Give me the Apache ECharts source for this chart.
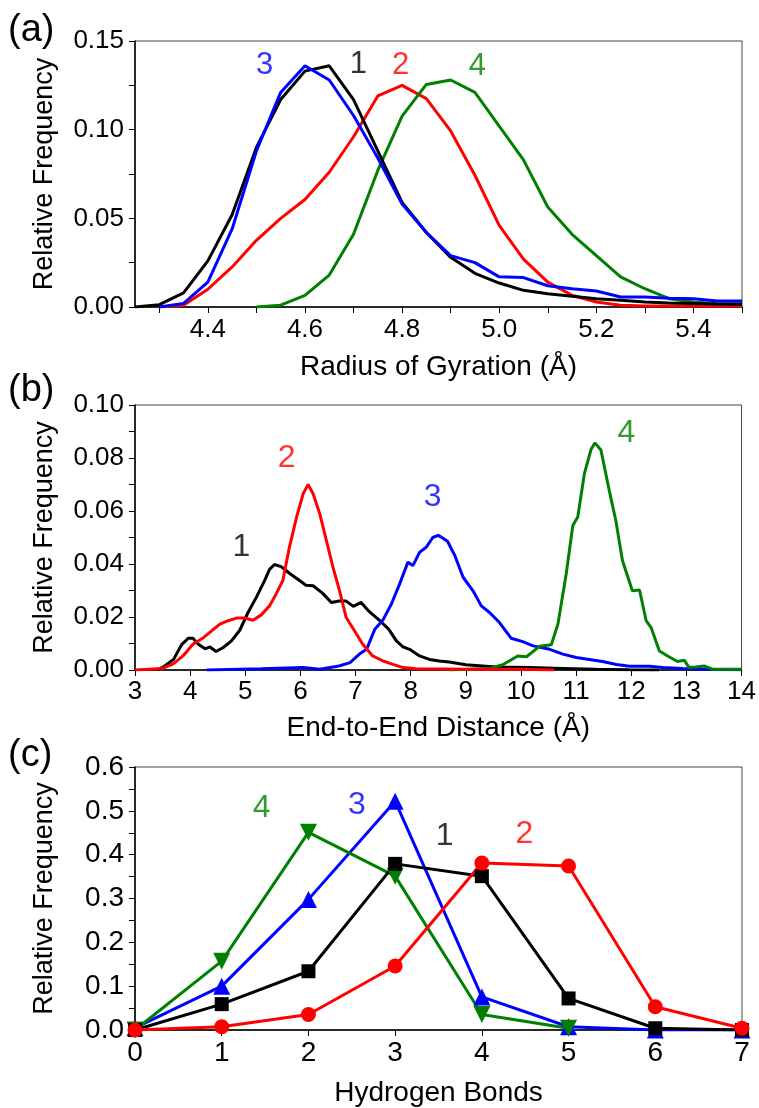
<!DOCTYPE html>
<html><head><meta charset="utf-8">
<script src="https://cdn.jsdelivr.net/npm/echarts@6/dist/echarts.min.js"></script>
<style>html,body{margin:0;padding:0;background:#fff}#c{width:759px;height:1108px}</style>
</head><body><div id="c"></div>
<script>
// ---------- Panel (a): Radius of Gyration ----------
const xA = [4.25,4.30,4.35,4.40,4.45,4.50,4.55,4.60,4.65,4.70,4.75,4.80,4.85,4.90,4.95,5.00,5.05,5.10,5.15,5.20,5.25,5.30,5.35,5.40,5.45,5.50];
const yA1 = [0.0,0.0013,0.008,0.026,0.052,0.090,0.117,0.133,0.136,0.117,0.088,0.059,0.042,0.028,0.019,0.0135,0.0094,0.0075,0.006,0.0047,0.0038,0.0028,0.0022,0.002,0.0017,0.0015];
const yA2 = [null,0.0,0.001,0.010,0.0226,0.0376,0.050,0.0606,0.076,0.096,0.119,0.125,0.1175,0.0993,0.0743,0.046,0.027,0.014,0.0066,0.0028,0.001,0.0006,0.0005,0.0005,0.0005,0.0005];
const yA3 = [null,0.0,0.002,0.014,0.044,0.088,0.121,0.136,0.128,0.108,0.084,0.058,0.042,0.029,0.025,0.017,0.0166,0.012,0.0103,0.009,0.0056,0.0056,0.005,0.0047,0.0034,0.0034];
const yA4 = [null,null,null,null,null,0.0,0.001,0.0066,0.018,0.041,0.077,0.1076,0.1255,0.128,0.121,0.102,0.083,0.0564,0.041,0.029,0.017,0.0103,0.0047,0.0028,0.0019,0.0019];
const tickA = [4.3,4.4,4.5,4.6,4.7,4.8,4.9,5.0,5.1,5.2,5.3,5.4,5.5];
const labelA = [4.4,4.6,4.8,5.0,5.2,5.4];
const annA = ['3','1','2','4'];
const annAx = [4.517,4.71,4.797,4.955];
const annAy = [0.1364,0.1370,0.1364,0.1355];

// ---------- Panel (b): End-to-End Distance ----------
const xB1 = [3.4,3.5,3.7,3.85,3.97,4.05,4.15,4.27,4.36,4.47,4.6,4.75,4.9,5.05,5.2,5.35,5.44,5.53,5.65,5.8,5.99,6.1,6.23,6.4,6.56,6.7,6.83,6.96,7.1,7.25,7.44,7.6,7.74,7.86,7.98,8.16,8.34,8.52,8.7,9.0,9.55,10.15,10.76,11.36,11.96,12.5];
const yB1 = [0,0.001,0.004,0.0097,0.012,0.012,0.0097,0.008,0.0087,0.007,0.0085,0.011,0.015,0.0217,0.0274,0.0337,0.038,0.0398,0.039,0.0365,0.0337,0.032,0.0318,0.029,0.0255,0.026,0.026,0.024,0.0255,0.022,0.0186,0.0154,0.011,0.0087,0.0078,0.0053,0.004,0.0034,0.003,0.002,0.0011,0.0009,0.0006,0.0003,0.0001,0];
const xB2 = [3.0,3.5,3.7,3.87,4.05,4.24,4.39,4.54,4.69,4.84,4.99,5.14,5.29,5.44,5.56,5.68,5.8,5.93,6.05,6.14,6.23,6.35,6.47,6.59,6.71,6.83,6.98,7.13,7.31,7.5,7.68,7.86,8.1,9.0,10.0,10.6];
const yB2 = [0,0.0006,0.0024,0.0053,0.0097,0.0122,0.0148,0.0173,0.0186,0.0196,0.0196,0.0188,0.0208,0.0242,0.0287,0.0337,0.0463,0.0577,0.0665,0.070,0.0665,0.059,0.0489,0.0388,0.0299,0.0198,0.0148,0.0097,0.0053,0.0034,0.0021,0.0009,0.0005,0.0003,0.0003,0];
const xB3 = [4.3,5.3,6.05,6.35,6.7,6.9,7.07,7.2,7.35,7.5,7.65,7.8,7.95,8.04,8.16,8.28,8.4,8.5,8.58,8.67,8.8,8.95,9.13,9.28,9.43,9.61,9.82,10.03,10.22,10.52,10.76,11.0,11.24,11.48,11.73,11.97,12.33,12.57,12.93,13.47,14.0];
const yB3 = [0,0.0005,0.0009,0.0003,0.0015,0.0028,0.006,0.0078,0.0154,0.019,0.0249,0.0325,0.0407,0.0394,0.0444,0.0463,0.050,0.0508,0.0498,0.0485,0.0432,0.035,0.0299,0.0242,0.0217,0.0179,0.012,0.0107,0.0091,0.0078,0.006,0.0047,0.004,0.0032,0.0021,0.0014,0.0014,0.0009,0.0006,0.0003,0.0001];
const xB4 = [8.7,9.43,9.67,9.94,10.1,10.34,10.55,10.67,10.82,10.94,11.03,11.15,11.27,11.34,11.45,11.6,11.72,11.84,12.02,12.15,12.27,12.36,12.51,12.69,12.84,12.96,13.05,13.17,13.32,13.47,14.0];
const yB4 = [0,0.0006,0.002,0.0053,0.005,0.009,0.0095,0.0173,0.0362,0.0545,0.0577,0.0741,0.0832,0.0857,0.083,0.0678,0.0564,0.0413,0.0299,0.0302,0.0186,0.016,0.0072,0.0049,0.0032,0.0037,0.0009,0.0011,0.0015,0.0003,0.0003];
const annB = ['1','2','3','4'];
const annBx = [4.93,5.75,8.40,11.91];
const annBy = [0.0465,0.0799,0.0654,0.0893];

// ---------- Panel (c): Hydrogen Bonds ----------
const xC = [0,1,2,3,4,5,6,7];
const yC1 = [0,0.059,0.134,0.379,0.351,0.072,0.004,0];
const yC2 = [0,0.0075,0.0355,0.146,0.381,0.374,0.053,0.004];
const yC3 = [0.005,0.100,0.298,0.522,0.0755,0.0075,0,0];
const yC4 = [0,0.157,0.451,0.351,0.0355,0.004];
const annC = ['4','3','1','2'];
const annCx = [1.46,2.56,3.57,4.49];
const annCy = [0.506,0.513,0.443,0.4475];

const colors = {'1':'#000000','2':'#ff0000','3':'#0000ff','4':'#008000'};
const F = "'Liberation Sans', Arial, sans-serif";
const FN = "'Liberation Sans Narrow', 'Arial Narrow', 'Liberation Sans', Arial, sans-serif";

function pairs(xs, ys){ const out=[]; for(let i=0;i<ys.length;i++){ if(ys[i]!=null) out.push([xs[i],ys[i]]); } return out; }

const chart = echarts.init(document.getElementById('c'), null, {renderer:'canvas'});

const grids = [
  {left:135, right:17, top:41, height:266, show:true, borderColor:'#444', borderWidth:1},
  {left:135, right:17, top:405, height:265, show:true, borderColor:'#444', borderWidth:1},
  {left:135, right:17, top:767, height:265, show:true, borderColor:'#444', borderWidth:1}
];

const axisLine = {show:true, lineStyle:{color:'#000', width:1.5}};
function yAxisCfg(gi, max, interval, dec, font){
  return {type:'value', gridIndex:gi, min:0, max:max, interval:interval,
    name:'Relative Frequency', nameLocation:'middle', nameGap:77,
    nameTextStyle:{fontFamily:F, fontSize:27, color:'#000'},
    axisLine:axisLine, splitLine:{show:false},
    axisTick:{show:true, inside:false, length:6, lineStyle:{color:'#000'}},
    minorTick:{show:true, splitNumber:2, length:6, lineStyle:{color:'#000'}},
    axisLabel:{fontFamily:font, fontSize:gi===2?28:26, color:'#000', margin:11, formatter:v=>v.toFixed(dec)}};
}

const option = {
  animation:false,
  backgroundColor:'#fff',
  grid: grids,
  xAxis: [
    {type:'value', gridIndex:0, min:4.25, max:5.5,
      name:'Radius of Gyration (Å)', nameLocation:'middle', nameGap:46,
      nameTextStyle:{fontFamily:F, fontSize:28, color:'#000'},
      axisLine:axisLine, splitLine:{show:false},
      axisTick:{show:true, length:6, customValues:tickA, lineStyle:{color:'#000'}},
      axisLabel:{fontFamily:F, fontSize:26, color:'#000', margin:10, customValues:labelA, formatter:v=>v.toFixed(1)}},
    {type:'value', gridIndex:1, min:3, max:14, interval:1,
      name:'End-to-End Distance (Å)', nameLocation:'middle', nameGap:44,
      nameTextStyle:{fontFamily:F, fontSize:28, color:'#000'},
      axisLine:axisLine, splitLine:{show:false},
      axisTick:{show:true, length:6, lineStyle:{color:'#000'}},
      axisLabel:{fontFamily:F, fontSize:26, color:'#000', margin:9}},
    {type:'value', gridIndex:2, min:0, max:7, interval:1,
      name:'Hydrogen Bonds', nameLocation:'middle', nameGap:49,
      nameTextStyle:{fontFamily:F, fontSize:28, color:'#000'},
      axisLine:axisLine, splitLine:{show:false},
      axisTick:{show:true, length:6, lineStyle:{color:'#000'}},
      axisLabel:{fontFamily:FN, fontSize:28, color:'#000', margin:9}}
  ],
  yAxis: [
    yAxisCfg(0, 0.15, 0.05, 2, F),
    yAxisCfg(1, 0.10, 0.02, 2, F),
    yAxisCfg(2, 0.6, 0.1, 1, FN)
  ],
  graphic: [
    {type:'text', left:8, top:12, style:{text:'(a)', font:'38px '+F, fill:'#000'}},
    {type:'text', left:8, top:372, style:{text:'(b)', font:'38px '+F, fill:'#000'}},
    {type:'text', left:8, top:737, style:{text:'(c)', font:'38px '+F, fill:'#000'}}
  ],
  series: []
};

function lineSeries(idx, data, key, extra){
  return Object.assign({type:'line', xAxisIndex:idx, yAxisIndex:idx, data:data, showSymbol:false, symbol:'none',
    lineStyle:{color:colors[key], width:3}, itemStyle:{color:colors[key]}, silent:true, z:2}, extra||{});
}
function annSeries(idx, texts, xs, ys, size, font){
  return texts.map((t,i)=>({type:'scatter', xAxisIndex:idx, yAxisIndex:idx, symbolSize:0, silent:true, z:5,
    data:[[xs[i], ys[i]]],
    label:{show:true, position:'inside', formatter:t, color:colors[t], fontFamily:font, fontSize:size}}));
}

option.series.push(
  lineSeries(0, pairs(xA,yA2), '2'),
  lineSeries(0, pairs(xA,yA4), '4'),
  lineSeries(0, pairs(xA,yA1), '1'),
  lineSeries(0, pairs(xA,yA3), '3'),
  ...annSeries(0, annA, annAx, annAy, 31, F),
  lineSeries(1, pairs(xB1,yB1), '1'),
  lineSeries(1, pairs(xB3,yB3), '3'),
  lineSeries(1, pairs(xB4,yB4), '4'),
  lineSeries(1, pairs(xB2,yB2), '2'),
  ...annSeries(1, annB, annBx, annBy, 32, F),
  lineSeries(2, pairs(xC,yC3), '3', {showSymbol:true, symbol:'triangle', symbolSize:17}),
  lineSeries(2, pairs(xC,yC4), '4', {showSymbol:true, symbol:'triangle', symbolRotate:180, symbolSize:17}),
  lineSeries(2, pairs(xC,yC1), '1', {showSymbol:true, symbol:'rect', symbolSize:14}),
  lineSeries(2, pairs(xC,yC2), '2', {showSymbol:true, symbol:'circle', symbolSize:15}),
  ...annSeries(2, annC, annCx, annCy, 32, FN)
);

chart.setOption(option);
</script>
</body></html>
